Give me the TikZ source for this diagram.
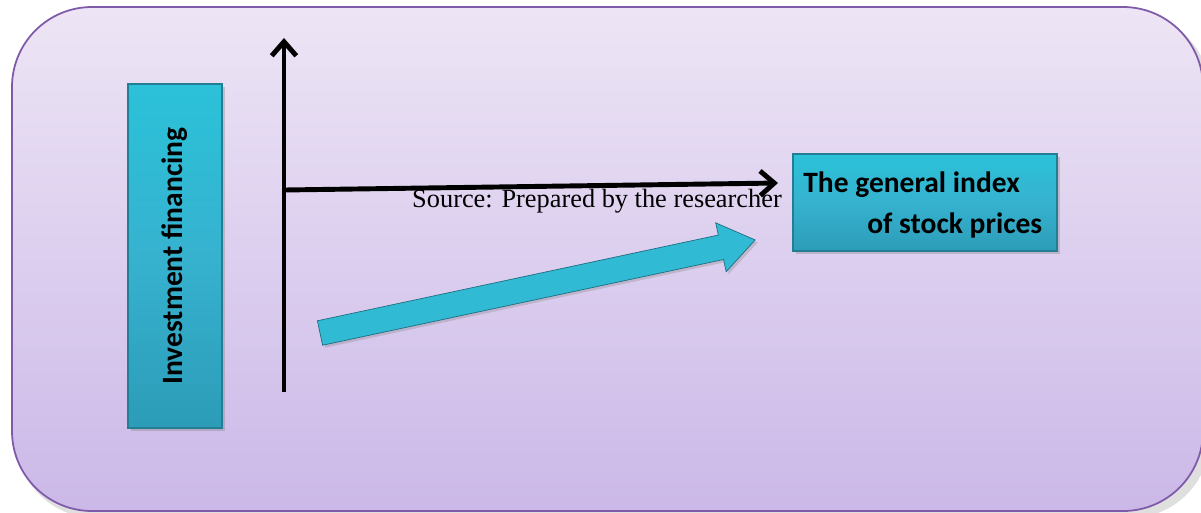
\documentclass[tikz,border=0pt]{standalone}
\usepackage{fontspec}
\setmainfont{Liberation Serif}
\newfontfamily\carlitofont{Carlito}
\usetikzlibrary{arrows.meta,shadows,calc}
\definecolor{bgtop}{HTML}{EDE5F5}
\definecolor{bgbot}{HTML}{CBB8E8}
\definecolor{bgedge}{HTML}{7E5AA8}
\definecolor{boxc}{HTML}{36B2CF}
\definecolor{boxd}{HTML}{2C9CB8}
\tikzset{
  cyanbox/.style={draw=boxd!80!black, line width=0.6pt, top color=boxc!80!cyan, bottom color=boxd, middle color=boxc, inner sep=0pt, drop shadow={opacity=0.35, shadow xshift=0.06cm, shadow yshift=-0.06cm}},
  blackarrow/.style={line width=2.8pt, -{Straight Barb[length=8pt,width=14pt,line width=2.8pt]}},
  boxtext/.style={font=\carlitofont\bfseries\fontsize{16.8}{19}\selectfont, text=black, inner sep=0pt}
}
\begin{document}
\begin{tikzpicture}[x=0.02cm,y=-0.02cm]
\useasboundingbox (0,0) rectangle (1201,512);
\fill[gray!25] (16,13) [rounded corners=1.6cm] rectangle (1210,518);
\draw[bgedge, line width=1pt, top color=bgtop, bottom color=bgbot, rounded corners=1.6cm] (12,7) rectangle (1203,511);
% left box
\node[cyanbox, minimum width=94*0.02cm, minimum height=344*0.02cm] (inv) at (175,256) {};
\node[boxtext, rotate=90] (invt) at (inv.center) {Investment financing};
% right box
\node[cyanbox, minimum width=264*0.02cm, minimum height=97*0.02cm] (gen) at (925,202.5) {};
\node[boxtext, anchor=base west] (g1) at (803,192) {The general index};
\node[boxtext, anchor=base west] (g2) at (867,233) {of stock prices};
% axes
\coordinate (vb) at (284,392);
\coordinate (vt) at (284,38);
\coordinate (hl) at (284,190);
\coordinate (hr) at (778,183);
\draw[blackarrow] (vb) -- (vt);
\draw[blackarrow] (hl) -- (hr);
% source text
\node[font=\fontsize{15}{17}\selectfont, anchor=base] (src) at (597,207) {Source: Prepared by the researcher};
% thick cyan arrow
\coordinate (ta) at (320,333);
\begin{scope}[shift={(ta)}, rotate=12.07]
\filldraw[draw=boxd!70!black, line width=0.4pt, fill=boxc!90!cyan, drop shadow={opacity=0.3, shadow xshift=0.05cm, shadow yshift=-0.05cm}]
  (0,-12.5) -- (410,-12.5) -- (410,-25) -- (445,0) -- (410,25) -- (410,12.5) -- (0,12.5) -- cycle;
\coordinate (tb) at (445,0);
\end{scope}
\end{tikzpicture}
\end{document}
